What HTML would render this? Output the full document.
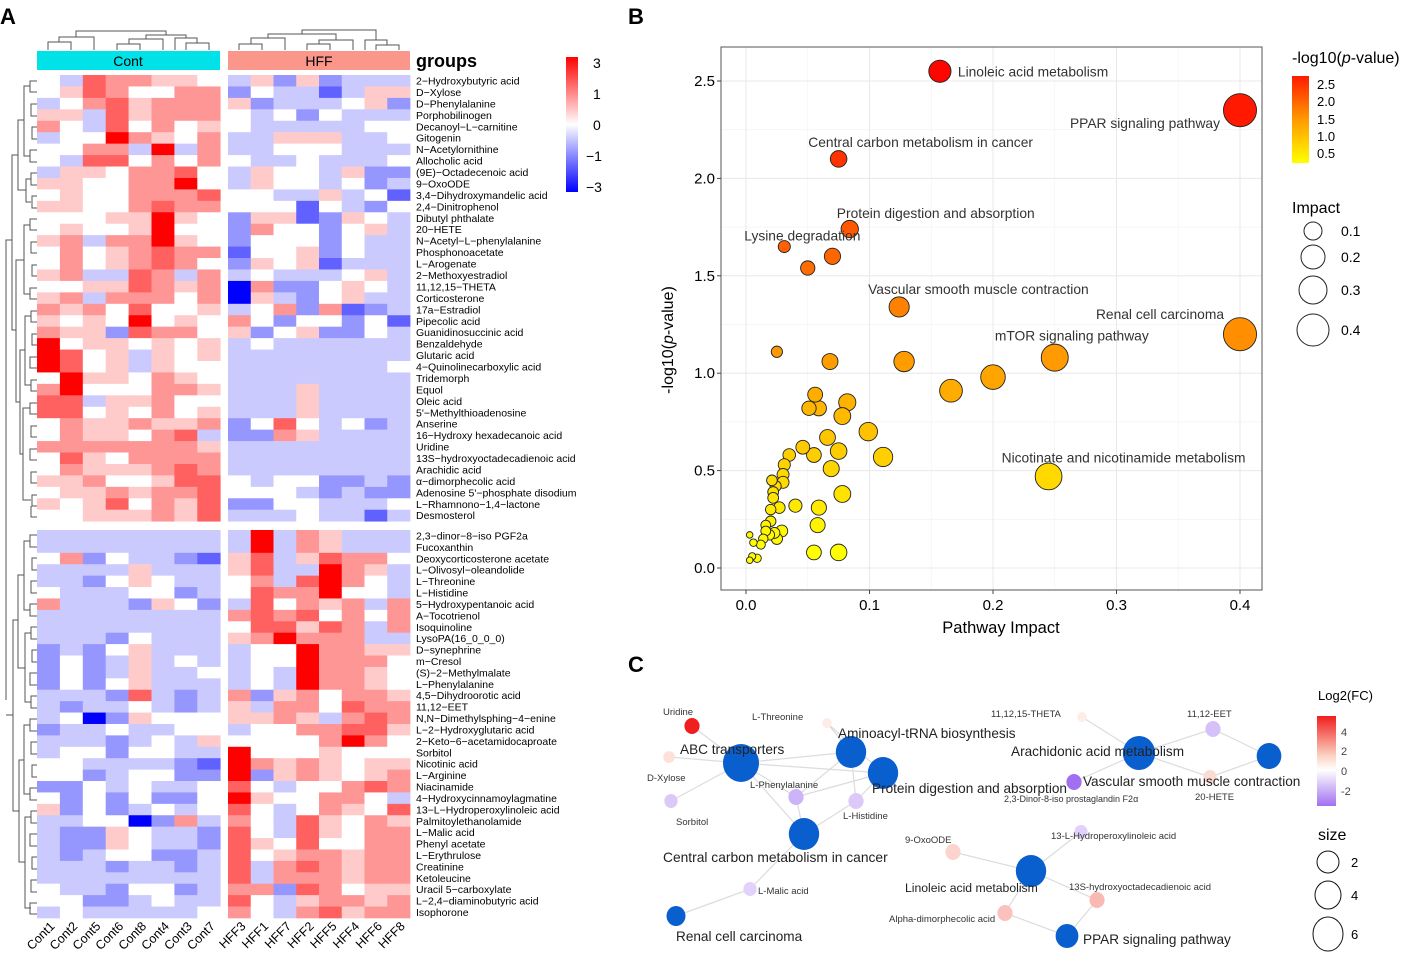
<!DOCTYPE html>
<html><head><meta charset="utf-8"><style>
body{margin:0;background:#fff;}
svg{display:block;font-family:"Liberation Sans",Arial,sans-serif;}
</style></head><body>
<svg id="fig" width="1414" height="964" viewBox="0 0 1414 964" xmlns="http://www.w3.org/2000/svg">
<text x="0" y="24" font-size="22" font-weight="bold">A</text>
<text x="628" y="24" font-size="22" font-weight="bold">B</text>
<text x="628" y="672" font-size="22" font-weight="bold">C</text>

<g id="panelA">
 <g stroke="#555" stroke-width="1" fill="none">
  <path d="M48 50V42H71V50M59 42V37H94V50M117 50V44H140V50M129 44V39H163V50M186 50V43H209V50M197 43V38H175V50M146 39V35H186V38M76 37V31H166V35"/>
  <path d="M239 50V44H262V50M251 44V38H285V50M307 50V44H330V50M319 44V40H353V50M376 50V45H399V50M387 45V40H365V50M268 38V34H336V40M302 34V30H376V40"/>
 </g>
 <g stroke="#555" stroke-width="1" fill="none">
  <path d="M37 81H30V92H37M37 104H31V116H37M37 127H32V139H37M37 150H30V162H37M30 86H24V156H30M37 173H31V185H37M37 196H32V208H37M31 179H26V202H31M24 120H18V190H26M37 219H30V230H37M37 242H31V253H37M37 265H32V276H37M37 288H30V299H37M30 225H24V294H30M37 311H31V322H37M37 334H32V345H37M37 357H30V368H37M37 380H31V391H37M31 316H25V385H31M37 403H30V414H37M37 426H31V437H37M37 449H30V460H37M37 472H31V483H37M37 495H32V506H37M37 517H31V506M30 408H23V500H31M25 350H20V454H23M24 260H16V402H20M18 155H12V330H16M12 240H6V700"/>
  <path d="M37 535H30V547H37M37 558H32V570H37M37 581H31V593H37M37 604H30V616H37M30 541H24V610H30M37 627H31V639H37M37 650H32V662H37M37 673H30V685H37M37 696H31V708H37M31 633H25V702H31M24 575H18V668H25M37 719H30V731H37M37 742H31V754H37M37 765H32V777H37M37 788H30V800H37M30 725H24V794H30M37 811H31V823H37M37 834H30V846H37M37 857H32V869H37M37 880H31V892H37M37 903H30V914H37M31 817H25V908H31M24 760H19V862H25M18 620H13V811H19M13 715H6V715"/>
 </g>
 <rect x="37" y="51" width="183" height="19" fill="#00e1e8"/>
 <text x="128" y="66" font-size="14" text-anchor="middle">Cont</text>
 <rect x="228" y="51" width="182" height="19" fill="#fa978a"/>
 <text x="319" y="66" font-size="14" text-anchor="middle">HFF</text>
 <text x="416" y="67" font-size="18" font-weight="bold">groups</text>
 <defs>
  <linearGradient id="hmGrad" x1="0" y1="0" x2="0" y2="1">
   <stop offset="0" stop-color="#ff0000"/><stop offset="0.5" stop-color="#ffffff"/><stop offset="1" stop-color="#0000ff"/>
  </linearGradient>
  <linearGradient id="pGrad" x1="0" y1="0" x2="0" y2="1">
   <stop offset="0" stop-color="#ff1a00"/><stop offset="0.5" stop-color="#ff9a00"/><stop offset="1" stop-color="#ffff00"/>
  </linearGradient>
  <linearGradient id="fcGrad" x1="0" y1="0" x2="0" y2="1">
   <stop offset="0" stop-color="#f01e1e"/><stop offset="0.45" stop-color="#fbd5c5"/><stop offset="0.6" stop-color="#ffffff"/><stop offset="1" stop-color="#a070f0"/>
  </linearGradient>
 </defs>
 <rect x="566" y="57" width="12" height="135" fill="url(#hmGrad)"/>
 <g font-size="14">
  <text x="593" y="68">3</text><text x="593" y="99">1</text><text x="593" y="130">0</text><text x="586" y="161">−1</text><text x="586" y="192">−3</text>
 </g>
 <g id="hmCells"></g>
 <g id="hmRowLabels" font-size="10.5"></g>
 <g id="hmColLabels" font-size="12.5"></g>
</g>

<g id="panelB">
 <g id="bGrid"></g>
 <rect x="721" y="47" width="541" height="543" fill="none" stroke="#555" stroke-width="1"/>
 <g id="bTicks" font-size="15"></g>
 <g id="bPoints"></g>
 <g id="bLabels" font-size="13.8" fill="#333"></g>
 <text x="1001" y="633" font-size="16.5" text-anchor="middle">Pathway Impact</text>
 <text transform="translate(673,340) rotate(-90)" font-size="16" text-anchor="middle">-log10(<tspan font-style="italic">p</tspan>-value)</text>
 <text x="1292" y="63" font-size="16">-log10(<tspan font-style="italic">p</tspan>-value)</text>
 <rect x="1292" y="76" width="17" height="87" fill="url(#pGrad)"/>
 <g font-size="13">
  <text x="1317" y="89">2.5</text><text x="1317" y="106">2.0</text><text x="1317" y="124">1.5</text><text x="1317" y="141">1.0</text><text x="1317" y="158">0.5</text>
 </g>
 <text x="1292" y="213" font-size="16">Impact</text>
 <g fill="none" stroke="#222">
  <circle cx="1313" cy="231" r="9"/><circle cx="1313" cy="257" r="12"/><circle cx="1313" cy="290" r="14"/><circle cx="1313" cy="330" r="16"/>
 </g>
 <g font-size="14">
  <text x="1341" y="236">0.1</text><text x="1341" y="262">0.2</text><text x="1341" y="295">0.3</text><text x="1341" y="335">0.4</text>
 </g>
</g>

<g id="panelC">
 <g id="cEdges" stroke="#dcdcdc" stroke-width="1.2"></g>
 <g id="cNodes"></g>
 <g id="cLabels"></g>
 <text x="1318" y="700" font-size="13">Log2(FC)</text>
 <rect x="1317" y="716" width="19" height="90" fill="url(#fcGrad)"/>
 <g font-size="11" fill="#444">
  <text x="1341" y="736">4</text><text x="1341" y="755">2</text><text x="1341" y="775">0</text><text x="1341" y="795">-2</text>
 </g>
 <text x="1318" y="840" font-size="16">size</text>
 <g fill="none" stroke="#111">
  <ellipse cx="1328" cy="862" rx="11" ry="11"/><ellipse cx="1328" cy="895" rx="13" ry="14"/><ellipse cx="1328" cy="934" rx="15" ry="17"/>
 </g>
 <g font-size="13">
  <text x="1351" y="867">2</text><text x="1351" y="900">4</text><text x="1351" y="939">6</text>
 </g>
</g>
</svg>
<script>
const NS='http://www.w3.org/2000/svg';
// ===== Panel A data =====
const colNames=['Cont1','Cont2','Cont5','Cont6','Cont8','Cont4','Cont3','Cont7','HFF3','HFF1','HFF7','HFF2','HFF5','HFF4','HFF6','HFF8'];
const topRowNames=['2−Hydroxybutyric acid','D−Xylose','D−Phenylalanine','Porphobilinogen','Decanoyl−L−carnitine','Gitogenin','N−Acetylornithine','Allocholic acid','(9E)−Octadecenoic acid','9−OxoODE','3,4−Dihydroxymandelic acid','2,4−Dinitrophenol','Dibutyl phthalate','20−HETE','N−Acetyl−L−phenylalanine','Phosphonoacetate','L−Arogenate','2−Methoxyestradiol','11,12,15−THETA','Corticosterone','17a−Estradiol','Pipecolic acid','Guanidinosuccinic acid','Benzaldehyde','Glutaric acid','4−Quinolinecarboxylic acid','Tridemorph','Equol','Oleic acid','5\'−Methylthioadenosine','Anserine','16−Hydroxy hexadecanoic acid','Uridine','13S−hydroxyoctadecadienoic acid','Arachidic acid','α−dimorphecolic acid','Adenosine 5\'−phosphate disodium','L−Rhamnono−1,4−lactone','Desmosterol'];
const botRowNames=['2,3−dinor−8−iso PGF2a','Fucoxanthin','Deoxycorticosterone acetate','L−Olivosyl−oleandolide','L−Threonine','L−Histidine','5−Hydroxypentanoic acid','A−Tocotrienol','Isoquinoline','LysoPA(16_0_0_0)','D−synephrine','m−Cresol','(S)−2−Methylmalate','L−Phenylalanine','4,5−Dihydroorotic acid','11,12−EET','N,N−Dimethylsphing−4−enine','L−2−Hydroxyglutaric acid','2−Keto−6−acetamidocaproate','Sorbitol','Nicotinic acid','L−Arginine','Niacinamide','4−Hydroxycinnamoylagmatine','13−L−Hydroperoxylinoleic acid','Palmitoylethanolamide','L−Malic acid','Phenyl acetate','L−Erythrulose','Creatinine','Ketoleucine','Uracil 5−carboxylate','L−2,4−diaminobutyric acid','Isophorone'];
// z-score codes: digit d -> (d-4)*0.65
const topCodes=['4376655435252333','4576446624331355','3467566652333452','5537566643424333','6437464543333344','3448654633555334','4466383633444333','4377464643343334','3554667435443522','5544668435443423','4544666744335341','5544676644414324','4445585425512543','4544584426442453','5636685424442433','4645676614452433','4645676425451333','5633763634333453','4455765606224543','5636664605324533','6564744534626123','5454845464244241','6552766452452243','8455454534333333','8745354533333333','8745354433333334','4855465433333333','6844466533353333','7735564433353333','7745464533353333','4655655624743423','4655467322653333','6666666533333333','4754666633333333','4655567633333333','5564457743442232','4556566744432322','5457465722443334','4455565733343313'];
const botCodes=['3333333338365333','3333333338365333','4624332157357664','3333533357338653','3324543346378643','4333442347668443','6333254237465636','3333333367674646','3333333347757636','3332433356866633','2324533334486655','2423534334486664','2423533434386654','2424533334386654','3332732362564665','3233432353664766','3402544455653676','2334334434466775','3332343544446864','3442443384445444','4433332186565455','4423442282565456','2243433474344676','4242422485446643','5242343474346547','3344026364375465','3225433274375466','3225433275474466','3234422374566566','3332332373676566','3333333373666566','4332442366276455','4422343374356656','3433333464367566'];

function hmColor(v){
  v=Math.max(-3,Math.min(3,v));const t=Math.abs(v)/3;
  const k=Math.round(255*(1-t));
  return v>=0?`rgb(255,${k},${k})`:`rgb(${k},${k},255)`;
}
const hmX=j=> j<8 ? 37+j*22.9 : 228+(j-8)*22.75;
const hmW=j=> j<8 ? 22.9 : 22.75;
function drawBlock(codes,names,y0,h){
  const cells=document.getElementById('hmCells'),labs=document.getElementById('hmRowLabels');
  codes.forEach((row,i)=>{
    for(let j=0;j<16;j++){
      const d=parseInt(row[j]);
      const v=d===8?3:(d===0?-3:(d-4)*0.62);
      const r=document.createElementNS(NS,'rect');
      r.setAttribute('x',hmX(j));r.setAttribute('y',y0+i*h);
      r.setAttribute('width',hmW(j)+0.4);r.setAttribute('height',h+0.4);
      r.setAttribute('fill',hmColor(v));
      
      
      cells.appendChild(r);
    }
    const t=document.createElementNS(NS,'text');
    t.setAttribute('x',416);t.setAttribute('y',y0+i*h+h/2+3.8);
    t.textContent=names[i];
    
    
    labs.appendChild(t);
  });
}
drawBlock(topCodes,topRowNames,75,11.44);
drawBlock(botCodes,botRowNames,530,11.41);
colNames.forEach((n,j)=>{
  const cx=hmX(j)+hmW(j)/2;
  const t=document.createElementNS(NS,'text');
  t.setAttribute('transform',`translate(${cx+7},927) rotate(-45)`);
  t.setAttribute('text-anchor','end');
  t.textContent=n;
  
  
  document.getElementById('hmColLabels').appendChild(t);
});

// ===== Panel B data =====
const bImpact=[0.157,0.4,0.075,0.084,0.031,0.07,0.05,0.124,0.4,0.025,0.068,0.128,0.25,0.2,0.166,0.056,0.082,0.051,0.059,0.078,0.099,0.066,0.046,0.035,0.055,0.075,0.111,0.031,0.069,0.03,0.021,0.024,0.03,0.022,0.022,0.078,0.245,0.04,0.059,0.02,0.027,0.02,0.058,0.016,0.016,0.029,0.019,0.023,0.025,0.014,0.012,0.055,0.075,0.006,0.003,0.005,0.009,0.003];
const bLogP=[2.55,2.35,2.1,1.74,1.65,1.6,1.54,1.34,1.2,1.11,1.06,1.06,1.08,0.98,0.91,0.89,0.85,0.82,0.82,0.78,0.70,0.67,0.62,0.58,0.58,0.60,0.57,0.53,0.51,0.48,0.45,0.42,0.44,0.39,0.36,0.38,0.47,0.32,0.31,0.30,0.31,0.24,0.22,0.22,0.19,0.19,0.17,0.18,0.15,0.15,0.12,0.08,0.08,0.13,0.17,0.06,0.05,0.04];
const bLabelText=['Linoleic acid metabolism','PPAR signaling pathway','Central carbon metabolism in cancer','Protein digestion and absorption','Lysine degradation','Vascular smooth muscle contraction','Renal cell carcinoma','mTOR signaling pathway','Nicotinate and nicotinamide metabolism'];
const bXTicks=[0,0.1,0.2,0.3,0.4];
const bXTickLabels=['0.0','0.1','0.2','0.3','0.4'];
const bYTicks=[0,0.5,1,1.5,2,2.5];
const bYTickLabels=['0.0','0.5','1.0','1.5','2.0','2.5'];

const xs=v=>746+v*1235;
const ys=v=>568-v*194.8;
const rs=v=>2+23*Math.sqrt(v);
function pColor(v){const h=Math.max(0,Math.min(60,60*(1-(v-0.1)/2.5)));return `hsl(${h},100%,50%)`;}
(function(){
  const g=document.getElementById('bGrid');
  const line=(x1,y1,x2,y2,c,w,name)=>{const l=document.createElementNS(NS,'line');l.setAttribute('x1',x1);l.setAttribute('y1',y1);l.setAttribute('x2',x2);l.setAttribute('y2',y2);l.setAttribute('stroke',c);l.setAttribute('stroke-width',w);
    
    
    g.appendChild(l);};
  for(let v=0.05;v<0.42;v+=0.1) line(xs(v),47,xs(v),590,'#f3f3f3',0.8,'minor-gridline');
  for(let v=0.25;v<2.7;v+=0.5) line(721,ys(v),1262,ys(v),'#f3f3f3',0.8,'minor-gridline');
  bXTicks.forEach(v=>line(xs(v),47,xs(v),590,'#e8e8e8',1,'x-gridline'));
  bYTicks.forEach(v=>line(721,ys(v),1262,ys(v),'#e8e8e8',1,'y-gridline'));
  const tk=document.getElementById('bTicks');
  bXTicks.forEach((v,i)=>{
    const l=document.createElementNS(NS,'line');l.setAttribute('x1',xs(v));l.setAttribute('x2',xs(v));l.setAttribute('y1',590);l.setAttribute('y2',594);l.setAttribute('stroke','#444');
    
    
    tk.appendChild(l);
    const t=document.createElementNS(NS,'text');t.setAttribute('x',xs(v));t.setAttribute('y',610);t.setAttribute('text-anchor','middle');t.textContent=bXTickLabels[i];
    
    
    tk.appendChild(t);
  });
  bYTicks.forEach((v,i)=>{
    const l=document.createElementNS(NS,'line');l.setAttribute('x1',717);l.setAttribute('x2',721);l.setAttribute('y1',ys(v));l.setAttribute('y2',ys(v));l.setAttribute('stroke','#444');
    
    
    tk.appendChild(l);
    const t=document.createElementNS(NS,'text');t.setAttribute('x',715);t.setAttribute('y',ys(v)+5);t.setAttribute('text-anchor','end');t.textContent=bYTickLabels[i];
    
    
    tk.appendChild(t);
  });
  const pg=document.getElementById('bPoints');
  const order=bImpact.map((_,i)=>i).sort((a,b)=>bImpact[b]-bImpact[a]);
  order.forEach(i=>{
    const c=document.createElementNS(NS,'circle');
    c.setAttribute('cx',xs(bImpact[i]));c.setAttribute('cy',ys(bLogP[i]));c.setAttribute('r',rs(bImpact[i]));
    c.setAttribute('fill',pColor(bLogP[i]));c.setAttribute('stroke','#222');c.setAttribute('stroke-width','0.9');
    
    
    pg.appendChild(c);
  });
  const lp=[[0,'start',18,5],[1,'end',-20,18],[2,'middle',82,-12],[3,'middle',86,-11],[4,'start',-40,-6],[7,'start',-31,-13],[8,'end',-16,-15],[12,'end',94,-17],[36,'middle',75,-14]];
  const lg=document.getElementById('bLabels');
  lp.forEach((p,k)=>{
    const i=p[0];const t=document.createElementNS(NS,'text');
    t.setAttribute('x',xs(bImpact[i])+p[2]);t.setAttribute('y',ys(bLogP[i])+p[3]);t.setAttribute('text-anchor',p[1]);
    t.textContent=bLabelText[k];
    
    
    lg.appendChild(t);
  });
})();

// ===== Panel C data =====
const cNodeNames=['Uridine','D-Xylose','ABC transporters','Sorbitol','L-Threonine','Aminoacyl-tRNA biosynthesis','Protein digestion and absorption','L-Phenylalanine','L-Histidine','Central carbon metabolism in cancer','L-Malic acid','Renal cell carcinoma','11,12,15-THETA','Arachidonic acid metabolism','11,12-EET','Vascular smooth muscle contraction','20-HETE','2,3-Dinor-8-iso prostaglandin F2α','9-OxoODE','13-L-Hydroperoxylinoleic acid','Linoleic acid metabolism','13S-hydroxyoctadecadienoic acid','Alpha-dimorphecolic acid','PPAR signaling pathway'];
const cNodeX=[692,669,741,671,827,851,883,796,856,804,750,676,1082,1139,1213,1269,1210,1074,953,1081,1031,1097,1005,1067];
const cNodeY=[726,757,763,801,723,752,773,797,801,834,889,916,717,753,729,756,777,782,852,832,871,900,913,936];
const cNodeR=[8,6,19,7,5,16,16,8,8,16,7,10,5,17,8,13,7,8,8,7,16,8,8,12];
const cNodeFC=[5,0.5,null,-1,0.2,null,null,-1.5,-1,null,-0.8,null,0.2,null,-1.2,null,0.6,-3,0.8,-0.8,null,1.4,1.2,null];
const cEdgeFrom=[0,1,3,2,2,2,4,4,5,5,6,6,7,8,9,10,12,13,14,13,16,13,18,19,20,22,21,20,2];
const cEdgeTo=[2,2,2,7,5,6,5,6,7,8,7,8,9,9,10,11,13,14,15,16,15,17,20,20,22,23,23,21,9];
const cLabelPos=[[663,715,9.5],[647,781,9.5],[680,754,13.6],[676,825,9.5],[752,720,9.5],[838,738,13.6],[872,793,13.6],[750,788,9.5],[843,819,9.5],[663,862,13.8],[758,894,9.5],[676,941,13.6],[991,717,9.5],[1011,756,13.6],[1187,717,9.5],[1083,786,13.6],[1195,800,9.5],[1004,802,9],[905,843,9.5],[1051,839,9.5],[905,892,12.2],[1069,890,9.5],[889,922,9.5],[1083,944,13.6]];
function fcColor(v){
  if(v===null) return '#0a5fcf';
  if(v>=0){const t=Math.min(1,v/5);return `rgb(${Math.round(255-t*15)},${Math.round(245-t*215)},${Math.round(238-t*208)})`;}
  const t=Math.min(1,-v/3);return `rgb(${Math.round(250-t*90)},${Math.round(245-t*133)},${Math.round(255-t*15)})`;
}
(function(){
  const eg=document.getElementById('cEdges');
  cEdgeFrom.forEach((a,k)=>{
    const b=cEdgeTo[k];const l=document.createElementNS(NS,'line');
    l.setAttribute('x1',cNodeX[a]);l.setAttribute('y1',cNodeY[a]);l.setAttribute('x2',cNodeX[b]);l.setAttribute('y2',cNodeY[b]);
    
    
    eg.appendChild(l);
  });
  const ng=document.getElementById('cNodes');
  cNodeX.forEach((x,i)=>{
    const e=document.createElementNS(NS,'ellipse');
    e.setAttribute('cx',x);e.setAttribute('cy',cNodeY[i]);e.setAttribute('rx',cNodeR[i]*0.95);e.setAttribute('ry',cNodeR[i]);
    e.setAttribute('fill',fcColor(cNodeFC[i]));
    
    
    ng.appendChild(e);
  });
  const lg=document.getElementById('cLabels');
  cNodeNames.forEach((n,i)=>{
    const p=cLabelPos[i];const t=document.createElementNS(NS,'text');
    t.setAttribute('x',p[0]);t.setAttribute('y',p[1]);t.setAttribute('font-size',p[2]);
    t.setAttribute('fill',p[2]>11?'#222':'#333');
    t.textContent=n;
    
    
    lg.appendChild(t);
  });
})();
</script>
</body></html>
